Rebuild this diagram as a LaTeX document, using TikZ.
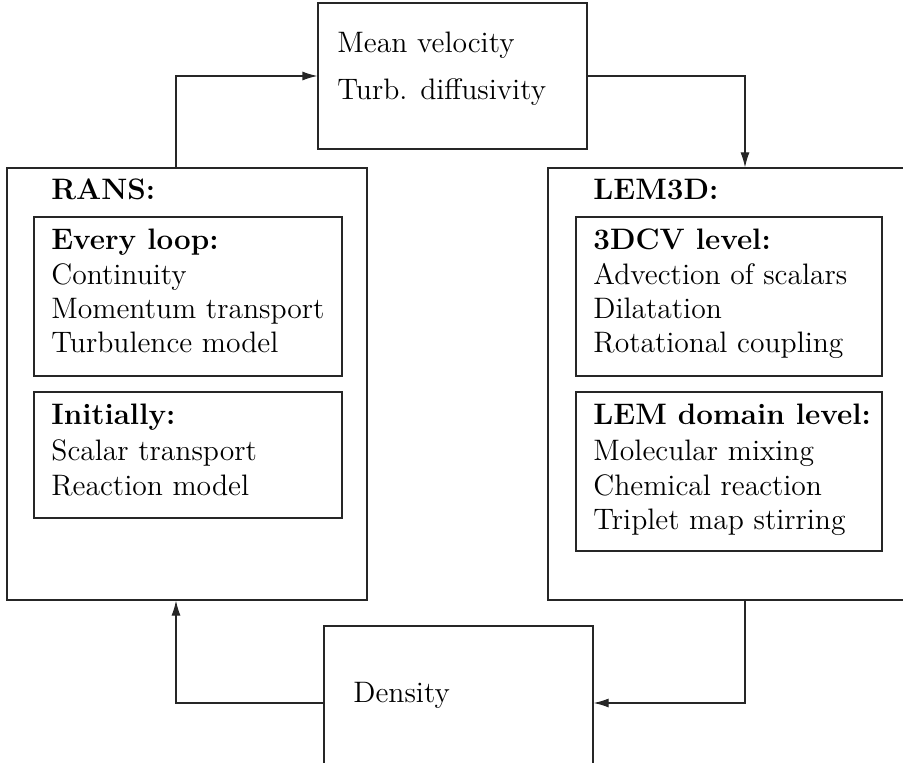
\documentclass[tikz,border=0pt]{standalone}
\usepackage{fontspec}
\usepackage{tikz}
\usetikzlibrary{arrows.meta}
\tikzset{
    plain-box/.style = {draw=black!85, line width=0.6pt, rectangle, inner sep=0pt},
    box-text/.style = {anchor=base west, inner sep=0pt, font=\fontsize{14.8}{17}\selectfont},
    box-title/.style = {box-text, font=\fontsize{14.8}{17}\selectfont\bfseries},
    flow-arrow/.style = {draw=black!85, line width=0.6pt, -{Latex[length=7.5pt,width=4.5pt]}},
}
\begin{document}
\begin{tikzpicture}[x=0.5pt, y=-0.5pt]
\useasboundingbox (0,0) rectangle (903,763);
\clip (0,0) rectangle (903,763);
% exchanged quantities
\node[plain-box, minimum width=134.5pt, minimum height=73pt] (vel) at (452.5,76) {};
\node[box-text] (vel-a) at (337,53) {Mean velocity};
\node[box-text] (vel-b) at (337,100) {Turb. diffusivity};
\node[plain-box, minimum width=134.5pt, minimum height=77pt] (dens) at (458.5,703) {};
\node[box-text] (dens-a) at (353,702) {Density};
% RANS side
\node[plain-box, minimum width=180pt, minimum height=216pt] (rans) at (187,384) {};
\node[box-title] (rans-t) at (51,200) {RANS:};
\node[plain-box, minimum width=154pt, minimum height=79.5pt] (loop) at (188,296.5) {};
\node[box-title] (loop-t) at (51,250) {Every loop:};
\node[box-text] (loop-a) at (51,285) {Continuity};
\node[box-text] (loop-b) at (51,319) {Momentum transport};
\node[box-text] (loop-c) at (51,353) {Turbulence model};
\node[plain-box, minimum width=154pt, minimum height=63pt] (init) at (188,455) {};
\node[box-title] (init-t) at (51,425) {Initially:};
\node[box-text] (init-a) at (51,461) {Scalar transport};
\node[box-text] (init-b) at (51,495) {Reaction model};
% LEM3D side
\node[plain-box, minimum width=180pt, minimum height=216pt] (lem) at (728,384) {};
\node[box-title] (lem-t) at (593,200) {LEM3D:};
\node[plain-box, minimum width=153pt, minimum height=79.5pt] (cv) at (729,296.5) {};
\node[box-title] (cv-t) at (593,250) {3DCV level:};
\node[box-text] (cv-a) at (593,285) {Advection of scalars};
\node[box-text] (cv-b) at (593,319) {Dilatation};
\node[box-text] (cv-c) at (593,353) {Rotational coupling};
\node[plain-box, minimum width=153pt, minimum height=79.5pt] (dom) at (729,471.5) {};
\node[box-title] (dom-t) at (593,425) {LEM domain level:};
\node[box-text] (dom-a) at (593,461) {Molecular mixing};
\node[box-text] (dom-b) at (593,495) {Chemical reaction};
\node[box-text] (dom-c) at (593,529) {Triplet map stirring};
% coupling loop
\coordinate (lx) at (176,0);
\coordinate (rx) at (745,0);
\draw[flow-arrow] (rans.north -| lx) |- (vel.west);
\draw[flow-arrow] (vel.east) -| (lem.north -| rx);
\draw[flow-arrow] (lem.south -| rx) |- (dens.east);
\draw[flow-arrow] (dens.west) -| (rans.south -| lx);
\end{tikzpicture}
\end{document}
